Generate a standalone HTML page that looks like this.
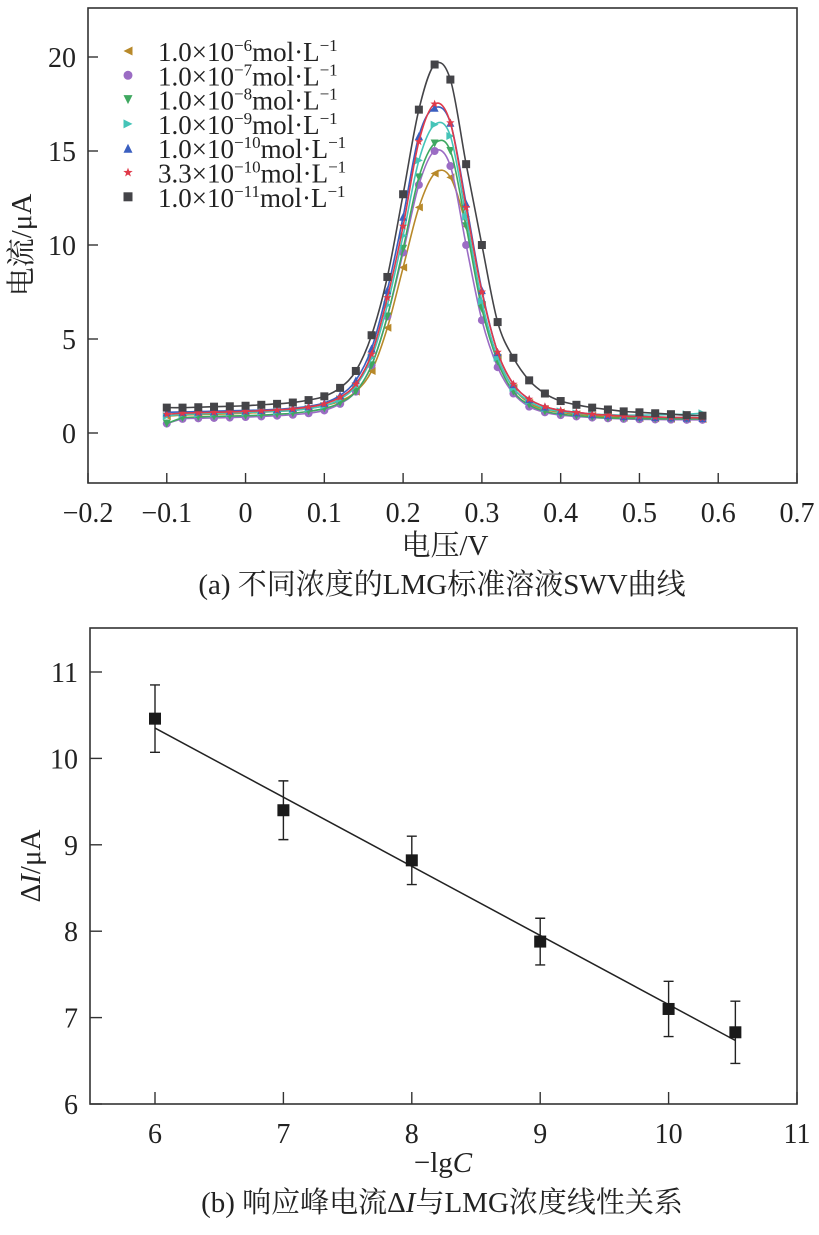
<!DOCTYPE html>
<html><head><meta charset="utf-8"><style>
html,body{margin:0;padding:0;background:#fff}
svg{display:block}
text{font-family:"Liberation Serif","Noto Serif CJK SC","Noto Sans CJK SC",serif;fill:#222}
</style></head><body>
<svg id="chart" width="819" height="1235" viewBox="0 0 819 1235" xmlns="http://www.w3.org/2000/svg">
<g id="top"></g>
<g id="bot"></g>
</svg>
<script>
// ---- Chart (a) data ----
const voltages = [-0.10,-0.08,-0.06,-0.04,-0.02,0.00,0.02,0.04,0.06,0.08,0.10,0.12,0.14,0.16,0.18,0.20,0.22,0.24,0.26,0.28,0.30,0.32,0.34,0.36,0.38,0.40,0.42,0.44,0.46,0.48,0.50,0.52,0.54,0.56,0.58];
const seriesMant = ["1.0","1.0","1.0","1.0","1.0","3.3","1.0"];
const seriesExp = ["−6","−7","−8","−9","−10","−10","−11"];
const goldVals = [0.9,0.95,0.98,1.0,1.02,1.05,1.1,1.15,1.2,1.3,1.45,1.7,2.2,3.3,5.6,8.8,12.0,13.8,13.6,11.0,6.8,4.0,2.4,1.6,1.25,1.1,1.0,0.92,0.86,0.82,0.8,0.78,0.76,0.75,0.74];
const purpleVals = [0.5,0.75,0.78,0.8,0.82,0.85,0.88,0.92,0.97,1.05,1.2,1.55,2.2,3.6,6.2,9.6,13.2,15.0,14.2,10.0,6.0,3.5,2.1,1.4,1.1,0.95,0.88,0.82,0.78,0.75,0.73,0.72,0.71,0.7,0.7];
const greenVals = [0.5,0.8,0.85,0.88,0.9,0.92,0.95,1.0,1.05,1.15,1.3,1.6,2.2,3.6,6.2,9.8,13.6,15.4,15.0,11.0,6.6,3.8,2.2,1.5,1.15,1.0,0.92,0.85,0.8,0.78,0.77,0.76,0.75,0.75,0.75];
const cyanVals = [0.9,1.0,1.02,1.05,1.07,1.1,1.12,1.15,1.2,1.3,1.45,1.8,2.5,4.0,6.8,10.5,14.5,16.4,15.8,11.5,7.0,4.0,2.4,1.7,1.3,1.15,1.05,1.0,0.97,0.95,0.95,0.96,0.98,1.0,1.05];
const blueVals = [1.1,1.12,1.14,1.16,1.18,1.2,1.22,1.26,1.32,1.42,1.6,2.0,2.8,4.5,7.6,11.5,15.8,17.3,16.5,12.2,7.6,4.3,2.6,1.8,1.4,1.2,1.1,1.0,0.95,0.9,0.88,0.85,0.83,0.82,0.8];
const redVals = [1.0,1.05,1.08,1.1,1.12,1.15,1.18,1.22,1.28,1.38,1.55,1.9,2.6,4.2,7.2,11.0,15.5,17.5,16.5,12.0,7.5,4.3,2.6,1.8,1.4,1.2,1.1,1.0,0.95,0.9,0.88,0.85,0.83,0.82,0.8];
const blackVals = [1.35,1.35,1.37,1.40,1.42,1.45,1.50,1.55,1.62,1.75,1.95,2.4,3.3,5.2,8.3,12.7,17.2,19.6,18.8,14.3,10.0,5.9,4.0,2.8,2.1,1.7,1.5,1.35,1.25,1.15,1.1,1.05,1.0,0.95,0.92];
const xTicksA = [-0.2,-0.1,0,0.1,0.2,0.3,0.4,0.5,0.6,0.7];
const xTickLabelsA = ["−0.2","−0.1","0","0.1","0.2","0.3","0.4","0.5","0.6","0.7"];
const yTicksA = [0,5,10,15,20];
// ---- Chart (b) data ----
const lgC = [6,7,8,9,10,10.52];
const deltaI = [10.46,9.40,8.82,7.88,7.10,6.83];
const errI = [0.39,0.34,0.28,0.27,0.32,0.36];
const xTicksB = [6,7,8,9,10,11];
const yTicksB = [6,7,8,9,10,11];

const NS="http://www.w3.org/2000/svg";
function mk(parent,tag,attrs,txt){const e=document.createElementNS(NS,tag);for(const k in attrs)e.setAttribute(k,attrs[k]);if(txt!==undefined)e.textContent=txt;parent.appendChild(e);return e;}

// ===== Chart A =====
const A=document.getElementById('top');
const axL=88,axR=797,axT=8,axB=483;
const xA=v=>88+(v+0.2)/0.9*709;
const yA=v=>433-v*18.8;
let fr=mk(A,'rect',{x:axL,y:axT,width:axR-axL,height:axB-axT,fill:'none',stroke:'#333','stroke-width':1.6});


xTicksA.forEach((t,i)=>{
  const l=mk(A,'line',{x1:xA(t),x2:xA(t),y1:axB,y2:axB-10,stroke:'#333','stroke-width':1.4});
  
  
  const tx=mk(A,'text',{x:xA(t),y:522,'font-size':28,'text-anchor':'middle'},xTickLabelsA[i]);
  
  
});
yTicksA.forEach(t=>{
  const l=mk(A,'line',{x1:axL,x2:axL+10,y1:yA(t),y2:yA(t),stroke:'#333','stroke-width':1.4});
  
  
  const tx=mk(A,'text',{x:76,y:yA(t)+10,'font-size':28,'text-anchor':'end'},String(t));
  
  
});
let yl=mk(A,'text',{x:0,y:0,'font-size':29,'text-anchor':'middle',transform:'translate(31,245) rotate(-90)'},'电流/μA');


let xl=mk(A,'text',{x:445,y:555,'font-size':29,'text-anchor':'middle'},'电压/V');


let capA=mk(A,'text',{x:442,y:594,'font-size':29,'text-anchor':'middle'},'(a) 不同浓度的LMG标准溶液SWV曲线');



function smoothPath(pts){let d='M'+pts[0][0]+','+pts[0][1];for(let i=0;i<pts.length-1;i++){const p0=pts[i-1]||pts[i],p1=pts[i],p2=pts[i+1],p3=pts[i+2]||p2;const c1=[p1[0]+(p2[0]-p0[0])/6,p1[1]+(p2[1]-p0[1])/6],c2=[p2[0]-(p3[0]-p1[0])/6,p2[1]-(p3[1]-p1[1])/6];d+=` C${c1[0]},${c1[1]} ${c2[0]},${c2[1]} ${p2[0]},${p2[1]}`;}return d;}
function marker(g,type,x,y,c,s){
  if(type==='left')return mk(g,'polygon',{points:`${x-s},${y} ${x+s},${y-s} ${x+s},${y+s}`,fill:c});
  if(type==='right')return mk(g,'polygon',{points:`${x+s},${y} ${x-s},${y-s} ${x-s},${y+s}`,fill:c});
  if(type==='down')return mk(g,'polygon',{points:`${x-s},${y-s} ${x+s},${y-s} ${x},${y+s}`,fill:c});
  if(type==='up')return mk(g,'polygon',{points:`${x-s},${y+s} ${x+s},${y+s} ${x},${y-s}`,fill:c});
  if(type==='circle')return mk(g,'circle',{cx:x,cy:y,r:s,fill:c});
  if(type==='star'){let p=[];for(let k=0;k<10;k++){const r=k%2?s*0.45:s*1.1,a=-Math.PI/2+k*Math.PI/5;p.push((x+r*Math.cos(a)).toFixed(1)+','+(y+r*Math.sin(a)).toFixed(1));}return mk(g,'polygon',{points:p.join(' '),fill:c});}
  return mk(g,'rect',{x:x-s,y:y-s,width:2*s,height:2*s,fill:c});
}
const seriesA=[
 {vals:goldVals,color:'#b8892a',m:'left',name:'series-1e-6'},
 {vals:purpleVals,color:'#9b6cc4',m:'circle',name:'series-1e-7'},
 {vals:greenVals,color:'#3fa860',m:'down',name:'series-1e-8'},
 {vals:cyanVals,color:'#45c4b8',m:'right',name:'series-1e-9'},
 {vals:blueVals,color:'#3a5fc0',m:'up',name:'series-1e-10'},
 {vals:redVals,color:'#e03a4a',m:'star',name:'series-3.3e-10'},
 {vals:blackVals,color:'#444448',m:'square',name:'series-1e-11'}];
seriesA.forEach((s,si)=>{
  const g=mk(A,'g',{});
  
  
  const pts=voltages.map((v,i)=>[+xA(v).toFixed(2),+yA(s.vals[i]).toFixed(2)]);
  const p=mk(g,'path',{d:smoothPath(pts),fill:'none',stroke:s.color,'stroke-width':1.6});
  
  
  pts.forEach(q=>{const mm=marker(g,s.m,q[0],q[1],s.color,4);
    
    });
  const ly=52+si*24.3;
  const lm=marker(A,s.m,128,ly-1,s.color,4.5);
  
  
  const t=mk(A,'text',{x:158,y:ly+9,'font-size':27});
  
  
  mk(t,'tspan',{},seriesMant[si]+'×10');
  mk(t,'tspan',{dy:-10,'font-size':17},seriesExp[si]);
  mk(t,'tspan',{dy:10},'mol·L');
  mk(t,'tspan',{dy:-10,'font-size':17},'−1');
});

// ===== Chart B =====
const B=document.getElementById('bot');
const bL=90,bR=797,bT=628,bB=1104;
const xB=v=>155+(v-6)*128.4;
const yB=v=>1104-(v-6)*86.4;
let fb=mk(B,'rect',{x:bL,y:bT,width:bR-bL,height:bB-bT,fill:'none',stroke:'#333','stroke-width':1.6});


xTicksB.forEach(t=>{
  const l=mk(B,'line',{x1:xB(t),x2:xB(t),y1:bB,y2:bB-12,stroke:'#333','stroke-width':1.4});
  
  
  const tx=mk(B,'text',{x:xB(t),y:1143,'font-size':28,'text-anchor':'middle'},String(t));
  
  
});
yTicksB.forEach(t=>{
  const l=mk(B,'line',{x1:bL,x2:bL+12,y1:yB(t),y2:yB(t),stroke:'#333','stroke-width':1.4});
  
  
  const tx=mk(B,'text',{x:78,y:yB(t)+10,'font-size':28,'text-anchor':'end'},String(t));
  
  
});
let ylb=mk(B,'text',{x:0,y:0,'font-size':29,'text-anchor':'middle',transform:'translate(40,866) rotate(-90)'});


mk(ylb,'tspan',{},'Δ');mk(ylb,'tspan',{'font-style':'italic'},'I');mk(ylb,'tspan',{},'/μA');
let xlb=mk(B,'text',{x:443,y:1172,'font-size':29,'text-anchor':'middle'});


mk(xlb,'tspan',{},'−lg');mk(xlb,'tspan',{'font-style':'italic'},'C');
let capB=mk(B,'text',{x:442,y:1212,'font-size':29,'text-anchor':'middle'});


mk(capB,'tspan',{},'(b) 响应峰电流Δ');mk(capB,'tspan',{'font-style':'italic'},'I');mk(capB,'tspan',{},'与LMG浓度线性关系');
const n=lgC.length,mx=lgC.reduce((a,b)=>a+b)/n,my=deltaI.reduce((a,b)=>a+b)/n;
let sxy=0,sxx=0;lgC.forEach((x,i)=>{sxy+=(x-mx)*(deltaI[i]-my);sxx+=(x-mx)*(x-mx);});
const slope=sxy/sxx,icpt=my-slope*mx;
const x0=lgC[0],x1=lgC[n-1];
let fl=mk(B,'line',{x1:xB(x0),y1:yB(icpt+slope*x0),x2:xB(x1),y2:yB(icpt+slope*x1),stroke:'#222','stroke-width':1.5});


lgC.forEach((x,i)=>{
  const cx=xB(x),cy=yB(deltaI[i]),t=yB(deltaI[i]+errI[i]),b=yB(deltaI[i]-errI[i]);
  const e=mk(B,'path',{d:`M${cx},${t}V${b}M${cx-5},${t}H${cx+5}M${cx-5},${b}H${cx+5}`,stroke:'#222','stroke-width':1.4,fill:'none'});
  
  
  const r=mk(B,'rect',{x:cx-6,y:cy-6,width:12,height:12,fill:'#1a1a1a'});
  
  
});
</script>
</body></html>
